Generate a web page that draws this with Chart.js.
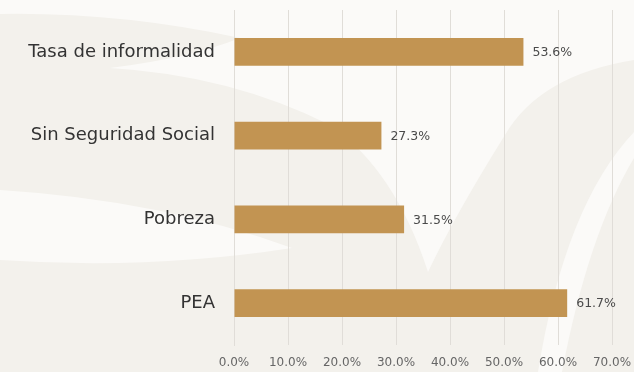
<!DOCTYPE html>
<html>
<head>
<meta charset="utf-8">
<script src="https://cdn.jsdelivr.net/npm/chart.js@4"></script>
<style>
    html, body { margin: 0; padding: 0; background: #f3f1ec; }
    #wrap { width: 634px; height: 372px; position: relative; }
</style>
</head>
<body>
<div id="wrap"><canvas id="chart"></canvas></div>
<script>
// Chart data
const categories = ['Tasa de informalidad', 'Sin Seguridad Social', 'Pobreza', 'PEA'];
const values = [53.6, 27.3, 31.5, 61.7];
const xTicks = [0, 10, 20, 30, 40, 50, 60, 70];

const barColor = '#c29452';
const fontFamily = '"DejaVu Sans", Verdana, sans-serif';

// Soft background with white swooshes
const backgroundPlugin = {
    id: 'background',
    beforeDraw(chart) {
        const ctx = chart.ctx;
        ctx.save();
        ctx.fillStyle = '#f3f1ec';
        ctx.fillRect(0, 0, chart.width, chart.height);

        ctx.fillStyle = '#fbfaf8';
        // upper white area with a wedge reaching left
        ctx.beginPath();
        ctx.moveTo(0, 0);
        ctx.lineTo(634, 0);
        ctx.lineTo(634, 60);
        ctx.quadraticCurveTo(540, 75, 505, 135);
        ctx.quadraticCurveTo(455, 215, 428, 272);
        ctx.quadraticCurveTo(395, 170, 330, 125);
        ctx.quadraticCurveTo(230, 75, 110, 68);
        ctx.quadraticCurveTo(190, 58, 240, 38);
        ctx.quadraticCurveTo(120, 12, 0, 14);
        ctx.closePath();
        ctx.fill();

        // middle-left band
        ctx.beginPath();
        ctx.moveTo(0, 190);
        ctx.quadraticCurveTo(160, 200, 292, 248);
        ctx.quadraticCurveTo(150, 270, 0, 260);
        ctx.closePath();
        ctx.fill();

        // right arc
        ctx.beginPath();
        ctx.moveTo(538, 372);
        ctx.quadraticCurveTo(565, 205, 634, 132);
        ctx.lineTo(634, 158);
        ctx.quadraticCurveTo(588, 235, 562, 372);
        ctx.closePath();
        ctx.fill();
        ctx.restore();
    }
};

// Value labels at the end of each bar
const valueLabelPlugin = {
    id: 'valueLabels',
    afterDatasetsDraw(chart) {
        const ctx = chart.ctx;
        const meta = chart.getDatasetMeta(0);
        ctx.save();
        ctx.font = '12.5px ' + fontFamily;
        ctx.fillStyle = '#4a4a4a';
        ctx.textAlign = 'left';
        ctx.textBaseline = 'middle';
        meta.data.forEach((bar, i) => {
            ctx.fillText(values[i].toFixed(1) + '%', bar.x + 9, bar.y + 1);
        });
        ctx.restore();
    }
};

new Chart(document.getElementById('chart'), {
    type: 'bar',
    data: {
        labels: categories,
        datasets: [{
            data: values,
            backgroundColor: barColor,
            borderWidth: 0,
            barPercentage: 0.66,
            categoryPercentage: 0.5
        }]
    },
    options: {
        indexAxis: 'y',
        responsive: true,
        maintainAspectRatio: false,
        animation: false,
        layout: { padding: { left: 0, right: 22, top: 10, bottom: 0 } },
        plugins: {
            legend: { display: false },
            tooltip: { enabled: false }
        },
        scales: {
            x: {
                min: 0,
                max: 70,
                afterBuildTicks(scale) {
                    scale.ticks = xTicks.map(v => ({ value: v }));
                },
                afterFit(scale) {
                    scale.height = 27;
                    scale.paddingLeft = 0;
                    scale.paddingRight = 0;
                },
                grid: { color: '#e0ddd8', drawTicks: false },
                border: { display: false },
                ticks: {
                    padding: 11,
                    color: '#666',
                    font: { family: fontFamily, size: 12 },
                    callback: v => v.toFixed(1) + '%'
                }
            },
            y: {
                afterFit(scale) {
                    scale.width = 234;
                    scale.paddingTop = 0;
                    scale.paddingBottom = 0;
                },
                grid: { display: false, drawTicks: false },
                border: { display: true, color: '#e0ddd8' },
                ticks: {
                    padding: 19,
                    color: '#333',
                    font: { family: fontFamily, size: 18 }
                }
            }
        }
    },
    plugins: [backgroundPlugin, valueLabelPlugin]
});
</script>
</body>
</html>
